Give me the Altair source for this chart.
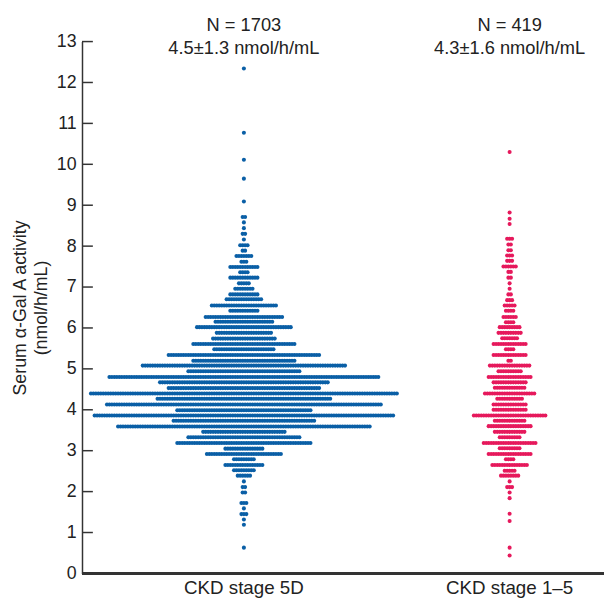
import altair as alt
import pandas as pd

groups = ["CKD stage 5D", "CKD stage 1–5"]
headers = ["N = 1703\n4.5±1.3 nmol/h/mL", "N = 419\n4.3±1.6 nmol/h/mL"]
colors = ["#0a5fa6", "#e6195c"]

# row values (nmol/h/mL) and number of dots per row
g1_values = [12.34, 10.77, 10.11, 9.65, 9.09, 8.71, 8.58, 8.44, 8.30, 8.16,
             8.02, 7.89, 7.76, 7.62, 7.49, 7.36, 7.23, 7.09, 6.96, 6.82,
             6.70, 6.55, 6.42, 6.27, 6.15, 6.02, 5.88, 5.74, 5.61, 5.48,
             5.34, 5.20, 5.08, 4.94, 4.80, 4.67, 4.53, 4.40, 4.27, 4.13,
             3.99, 3.86, 3.73, 3.59, 3.46, 3.33, 3.19, 3.05, 2.92, 2.79,
             2.65, 2.52, 2.39, 2.25, 2.11, 1.98, 1.72, 1.59, 1.45, 1.32,
             1.19, 0.63]
g1_counts = [1, 1, 1, 1, 1, 2, 1, 1, 2, 1,
             4, 2, 7, 3, 12, 4, 12, 5, 8, 12,
             15, 27, 12, 32, 24, 39, 23, 26, 42, 25,
             62, 42, 83, 46, 110, 69, 62, 125, 71, 112,
             55, 122, 58, 103, 34, 46, 55, 16, 31, 9,
             16, 9, 6, 1, 2, 2, 3, 1, 3, 1,
             1, 1]

g2_values = [10.30, 8.82, 8.67, 8.54, 8.18, 8.04, 7.90, 7.77, 7.64, 7.50,
             7.37, 7.23, 7.09, 6.96, 6.82, 6.68, 6.55, 6.42, 6.27, 6.14,
             6.02, 5.88, 5.75, 5.61, 5.48, 5.34, 5.20, 5.08, 4.94, 4.80,
             4.67, 4.54, 4.40, 4.27, 4.13, 4.00, 3.86, 3.73, 3.60, 3.46,
             3.33, 3.19, 3.06, 2.92, 2.79, 2.65, 2.51, 2.39, 2.25, 2.11,
             1.98, 1.84, 1.46, 1.28, 0.63, 0.44]
g2_counts = [1, 1, 1, 1, 3, 2, 2, 3, 3, 6,
             2, 2, 1, 1, 2, 3, 5, 4, 6, 4,
             9, 10, 7, 14, 4, 14, 2, 17, 10, 18,
             14, 13, 21, 11, 14, 14, 30, 13, 18, 13,
             9, 22, 9, 18, 4, 15, 5, 8, 1, 3,
             1, 1, 1, 1, 1, 1]

y_ticks = list(range(0, 14))

rows = []
for g, vals, cnts in [(groups[0], g1_values, g1_counts), (groups[1], g2_values, g2_counts)]:
    for v, n in zip(vals, cnts):
        for i in range(n):
            rows.append({"group": g, "value": v, "offset": i - (n - 1) / 2})
pts = pd.DataFrame(rows)
ticks_df = pd.DataFrame({"value": y_ticks})
hdr_df = pd.DataFrame({"group": groups, "label": headers})

W, H = 521, 539
FONT = "Liberation Sans"

xscale = alt.Scale(domain=groups, range=[29.4, 568.0], paddingInner=0, paddingOuter=0)
xaxis = alt.Axis(domain=False, ticks=False, labelFontSize=19, labelPadding=5,
                 labelColor="#222", labelFont=FONT, title=None, labelAngle=0)
yscale = alt.Scale(domain=[0, 13], nice=False, zero=False)
yaxis = alt.Axis(values=y_ticks, ticks=False, domainColor="#333", domainWidth=1.5,
                 labelFontSize=18, labelPadding=6, labelColor="#222", labelFont=FONT,
                 grid=False, title=["Serum α-Gal A activity", "(nmol/h/mL)"],
                 titleFontSize=18, titleFont=FONT, titleFontWeight="normal",
                 titleColor="#222", titleAngle=-90, titleX=-57, titleY=H / 2,
                 titleBaseline="alphabetic", titleLineHeight=21)

points = alt.Chart(pts).mark_circle(size=17, opacity=1).encode(
    x=alt.X("group:N", scale=xscale, axis=xaxis, sort=groups),
    xOffset=alt.XOffset("offset:Q", scale=alt.Scale(domain=[-53.86, 53.86], range=[0, 269.3])),
    y=alt.Y("value:Q", scale=yscale, axis=yaxis),
    color=alt.Color("group:N", scale=alt.Scale(domain=groups, range=colors), legend=None),
)

tick_rules = alt.Chart(ticks_df).mark_rule(color="#333", strokeWidth=1.5).encode(
    y=alt.Y("value:Q", scale=yscale, axis=yaxis),
    x=alt.value(0), x2=alt.value(11),
)

baseline = alt.Chart(ticks_df).mark_rule(color="#333", strokeWidth=1.5).encode(
    y=alt.value(H), x=alt.value(0), x2=alt.value(W + 8),
)

header = alt.Chart(hdr_df).mark_text(fontSize=18.5, font=FONT, color="#222",
                                     lineBreak="\n", lineHeight=24,
                                     baseline="alphabetic", align="center").encode(
    x=alt.X("group:N", scale=xscale, axis=xaxis, sort=groups),
    y=alt.value(-11),
    text="label:N",
)

chart = alt.layer(points, tick_rules, baseline, header).properties(
    width=W, height=H,
    autosize=alt.AutoSizeParams(type="none"),
    padding={"left": 75, "top": 30, "right": 8, "bottom": 30},
).configure_view(stroke=None)

chart.save("out.html", embed_options={"renderer": "svg", "actions": False})
